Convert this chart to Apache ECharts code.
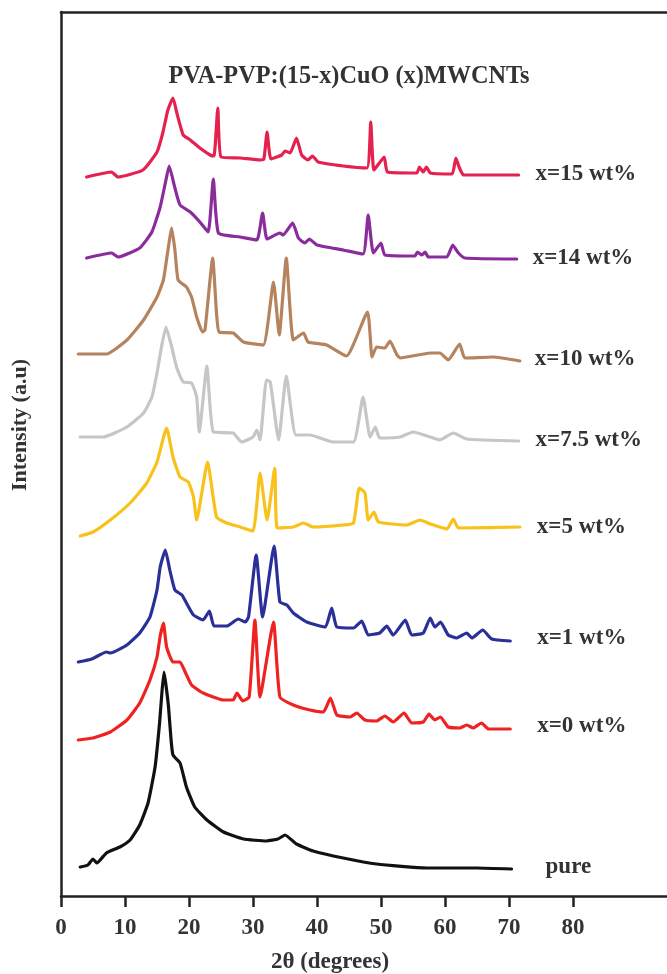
<!DOCTYPE html>
<html>
<head>
<meta charset="utf-8">
<script src="https://cdn.jsdelivr.net/npm/echarts@6/dist/echarts.min.js"></script>
<style>
html,body{margin:0;padding:0;background:#fff;}
#chart{width:667px;height:974px;}
</style>
</head>
<body>
<div id="chart"></div>
<script>
// ---- data (2θ in degrees, intensity in arbitrary units incl. vertical offsets) ----
const seriesNames = ['x=15 wt%', 'x=14 wt%', 'x=10 wt%', 'x=7.5 wt%', 'x=5 wt%', 'x=1 wt%', 'x=0 wt%', 'pure'];
const xTickLabels = [0, 10, 20, 30, 40, 50, 60, 70, 80];

const theta15 = [4.0,7.9,8.9,12.8,15.0,15.9,16.7,17.5,18.1,19.1,20.2,21.7,23.3,23.9,24.5,25.0,28.0,31.1,31.7,32.2,32.8,34.5,35.0,35.8,36.8,37.6,38.6,39.3,40.2,44.1,47.8,48.4,48.9,50.5,51.0,55.6,56.0,56.6,57.1,57.7,61.1,61.7,62.2,62.9,67.0,71.5];
const int15   = [719,724,719,726,744,763,786,798,783,761,756,748,741,740,788,739,738,736,737,764,737,741,745,743,758,741,736,740,734,730,728,774,726,739,724,723,729,724,729,723,722,738,729,721,721,721];

const theta14 = [4.0,7.9,8.9,12.3,14.2,15.5,16.4,16.9,17.8,18.6,20.2,21.7,23.0,23.8,24.6,28.0,30.6,31.5,32.2,34.2,34.7,36.2,37.1,38.1,38.8,40.0,44.1,47.2,48.0,48.8,50.0,50.6,55.3,55.7,56.4,56.9,57.4,60.3,61.2,62.1,63.1,71.2];
const int14   = [638,643,639,648,664,689,716,730,708,691,684,674,664,717,663,659,656,683,657,663,661,673,658,653,657,651,646,642,681,643,653,641,640,644,641,644,639,639,651,643,638,637];

const theta10 = [2.7,7.1,10.3,12.9,15.0,16.0,16.6,17.3,17.8,18.3,19.6,20.4,21.2,22.1,22.5,23.7,24.3,24.7,26.9,28.5,31.6,33.2,34.1,35.2,36.3,37.9,38.6,41.5,44.6,47.9,48.6,49.3,50.6,51.4,52.5,53.0,57.7,59.2,60.5,62.3,63.1,67.5,71.7];
const int10   = [542,542,556,576,599,616,641,668,646,616,609,599,579,564,566,638,583,564,563,554,551,614,561,638,556,563,554,551,540,584,539,549,548,555,541,538,543,543,536,552,538,539,535];

const theta75 = [3.0,6.6,10.3,12.9,14.2,15.0,15.7,16.4,17.3,18.1,19.1,20.4,21.2,21.6,22.8,23.8,26.9,28.2,30.0,30.6,31.1,32.1,32.7,34.0,35.2,36.7,38.9,42.5,45.7,47.2,48.3,49.1,49.8,53.0,55.0,57.7,59.2,61.3,63.4,71.5];
const int75   = [459,459,469,483,499,523,549,569,549,528,514,513,499,464,530,464,463,454,459,466,456,516,514,456,520,461,461,454,454,499,459,469,458,459,464,459,456,463,457,455];

const theta5 = [3.0,5.0,7.7,10.8,13.4,15.0,16.5,17.5,18.6,19.9,20.7,21.2,22.9,24.3,25.9,28.0,30.0,31.1,32.2,33.4,33.8,36.3,37.9,39.4,44.1,45.7,46.6,47.5,48.0,48.9,49.6,54.0,56.1,57.7,60.3,61.3,62.1,71.7];
const int5   = [360,364,376,393,413,434,468,439,419,414,399,376,434,379,373,369,365,423,376,428,368,369,373,369,371,373,408,403,376,384,374,371,376,372,367,377,368,369];

const theta1 = [2.7,4.8,7.1,7.7,10.3,12.3,13.9,15.0,15.5,16.3,17.0,17.8,18.9,19.6,20.7,22.2,23.2,23.9,25.9,27.7,28.8,29.3,30.5,31.5,33.3,34.2,35.3,36.3,38.4,41.3,42.3,43.1,45.7,47.0,48.0,49.8,50.9,51.9,53.8,54.8,56.6,57.7,58.4,59.3,60.5,61.8,63.4,64.2,65.9,67.3,70.2];
const int1   = [234,237,244,243,251,263,279,306,329,346,326,306,301,293,281,276,285,270,270,277,274,279,341,279,350,294,291,283,274,269,288,269,268,275,261,263,270,261,276,261,263,278,269,274,261,258,263,258,266,257,255];

const theta0 = [2.7,5.0,7.7,10.3,12.3,13.9,15.0,15.5,16.0,16.5,17.5,18.6,19.4,20.4,22.2,25.4,26.9,27.5,28.4,29.4,30.3,31.1,33.2,34.2,36.3,38.9,41.0,42.1,43.1,45.2,46.2,47.5,49.3,50.6,51.9,53.6,54.8,56.6,57.5,58.4,59.3,60.5,62.3,63.4,64.4,65.7,66.8,70.2];
const int0   = [156,158,164,176,193,216,239,260,273,249,234,234,224,211,203,196,196,203,195,199,276,199,274,199,191,186,184,198,181,179,183,176,175,180,174,183,173,174,182,176,179,169,168,171,168,173,167,167];

const thetaPure = [3.0,4.2,5.0,5.6,7.1,9.2,10.8,12.3,13.6,14.7,15.4,15.8,16.1,16.4,16.8,17.2,17.5,18.6,19.6,20.9,22.8,25.4,28.5,32.1,33.9,35.0,36.8,39.4,44.1,49.3,57.1,65.0,70.4];
const intPure   = [29,31,37,33,43,49,56,71,93,129,173,206,224,211,189,156,141,133,109,89,76,64,57,55,57,61,52,45,38,32,28,28,27];

const thetas = [theta15, theta14, theta10, theta75, theta5, theta1, theta0, thetaPure];
const intensities = [int15, int14, int10, int75, int5, int1, int0, intPure];

// ---- styling ----
const colors = ['#e4214f', '#8b2c9d', '#b5845f', '#c6c6c6', '#f8c21b', '#2b2f98', '#ef2222', '#111111'];
const labelOffsets = [[9,-1],[8,-1],[7,-2],[9,-1],[9,0],[19,-3],[19,-3],[26,-2]];
const serif = '"Liberation Serif", "Times New Roman", serif';
const textColor = '#333';

const chart = echarts.init(document.getElementById('chart'), null, {renderer: 'canvas'});

const series = seriesNames.map((name, i) => ({
  name: name,
  type: 'line',
  showSymbol: false,
  symbol: 'none',
  silent: true,
  smooth: 0.15,
  data: thetas[i].map((t, k) => [t, intensities[i][k]]),
  lineStyle: {color: colors[i], width: 3.2, join: 'round', cap: 'round'},
  itemStyle: {color: colors[i]},
  endLabel: {
    show: true,
    formatter: name,
    offset: labelOffsets[i],
    color: textColor,
    fontFamily: serif,
    fontWeight: 'bold',
    fontSize: 23
  }
}));

chart.setOption({
  animation: false,
  backgroundColor: '#fff',
  title: {
    text: 'PVA-PVP:(15-x)CuO (x)MWCNTs',
    left: 344,
    top: 60,
    textAlign: 'center',
    textStyle: {fontFamily: serif, fontWeight: 'bold', fontSize: 24.3, color: textColor}
  },
  grid: {left: 61, right: 0, top: 12, bottom: 78, containLabel: false, outerBoundsMode: 'none'},
  xAxis: [{
    type: 'value',
    min: 0,
    max: 94.69,
    position: 'bottom',
    name: '2θ (degrees)',
    nameLocation: 'middle',
    nameGap: 55,
    nameTextStyle: {fontFamily: serif, fontWeight: 'bold', fontSize: 23, color: textColor, padding: [0, 68, 0, 0]},
    axisLine: {show: true, onZero: false, lineStyle: {color: '#222', width: 2.5}},
    axisTick: {show: true, length: 11, customValues: xTickLabels, lineStyle: {color: '#222', width: 2.5}},
    axisLabel: {show: true, customValues: xTickLabels, margin: 21, fontFamily: serif, fontWeight: 'bold', fontSize: 23, color: textColor},
    splitLine: {show: false}
  }, {
    type: 'value',
    min: 0,
    max: 94.69,
    position: 'top',
    axisLine: {show: true, onZero: false, lineStyle: {color: '#222', width: 2.5}},
    axisTick: {show: false},
    axisLabel: {show: false},
    splitLine: {show: false}
  }],
  yAxis: {
    type: 'value',
    min: 0,
    max: 884,
    axisLine: {show: true, onZero: false, lineStyle: {color: '#222', width: 2.5}},
    axisTick: {show: false},
    axisLabel: {show: false},
    splitLine: {show: false}
  },
  graphic: [{
    type: 'text',
    x: 20,
    y: 425,
    rotation: Math.PI / 2,
    style: {
      text: 'Intensity (a.u)',
      fill: textColor,
      font: 'bold 22px ' + serif,
      align: 'center',
      verticalAlign: 'middle'
    }
  }],
  series: series
});
</script>
</body>
</html>
